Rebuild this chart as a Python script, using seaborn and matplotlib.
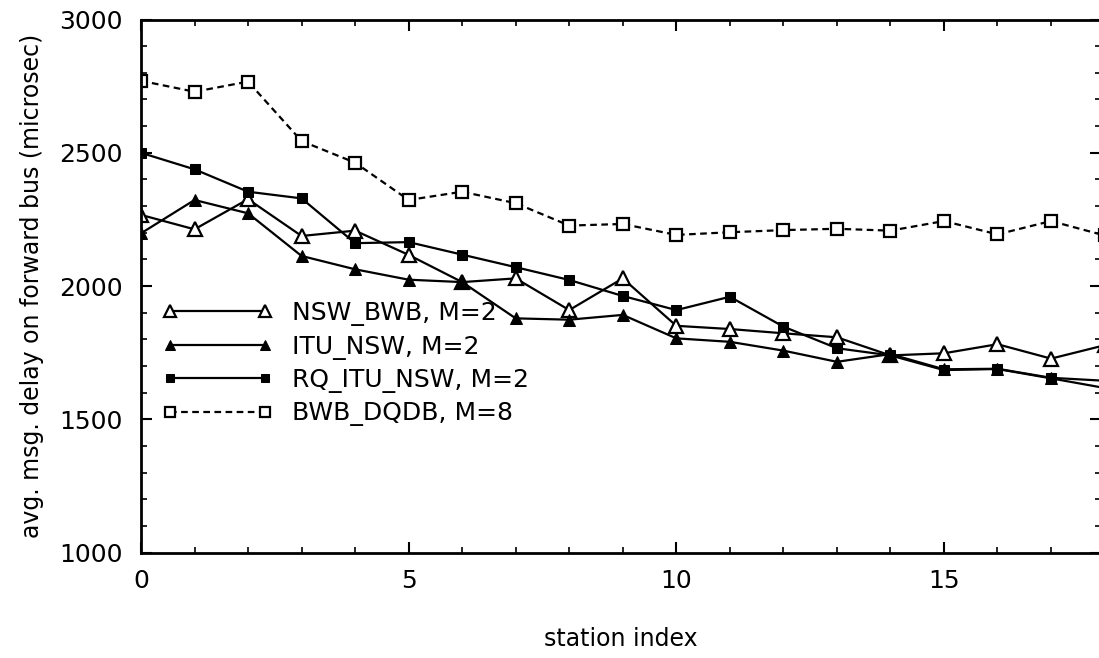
import matplotlib
matplotlib.use("Agg")
import matplotlib.pyplot as plt
import seaborn as sns
from matplotlib.ticker import MultipleLocator

stations = list(range(19))
nsw_bwb = [2267, 2213, 2326, 2188, 2208, 2117, 2015, 2029, 1910, 2029, 1851, 1839, 1823, 1808, 1740, 1748, 1782, 1728, 1778]
itu_nsw = [2198, 2323, 2273, 2113, 2063, 2024, 2015, 1879, 1874, 1892, 1804, 1791, 1758, 1716, 1745, 1688, 1690, 1656, 1645]
rq_itu_nsw = [2500, 2438, 2354, 2329, 2161, 2165, 2118, 2071, 2023, 1963, 1910, 1960, 1848, 1767, 1740, 1685, 1689, 1654, 1618]
bwb_dqdb = [2770, 2729, 2767, 2544, 2463, 2323, 2354, 2311, 2227, 2233, 2192, 2202, 2210, 2215, 2208, 2244, 2194, 2244, 2190]
labels = ["NSW_BWB, M=2", "ITU_NSW, M=2", "RQ_ITU_NSW, M=2", "BWB_DQDB, M=8"]

sns.set_theme(style="ticks")
plt.rcParams['font.family'] = ['DejaVu Sans']
plt.rcParams['text.color'] = 'black'
plt.rcParams['axes.labelcolor'] = 'black'
plt.rcParams['xtick.color'] = 'black'
plt.rcParams['ytick.color'] = 'black'

W, H = 1099, 658
fig = plt.figure(figsize=(W / 100, H / 100), dpi=100)
left, right, top, bottom = 141, 1101, 19.5, 552.7
ax = fig.add_axes([left / W, 1 - bottom / H, (right - left) / W, (bottom - top) / H])

common = dict(color="black", linewidth=1.6, ax=ax)
sns.lineplot(x=stations, y=nsw_bwb, marker="^", markersize=10, markerfacecolor="white",
             markeredgecolor="black", markeredgewidth=1.6, label=labels[0], **common)
sns.lineplot(x=stations, y=itu_nsw, marker="^", markersize=9, markerfacecolor="black",
             markeredgecolor="black", label=labels[1], **common)
sns.lineplot(x=stations, y=rq_itu_nsw, marker="s", markersize=6.5, markerfacecolor="black",
             markeredgecolor="black", label=labels[2], **common)
sns.lineplot(x=stations, y=bwb_dqdb, marker="s", markersize=9, markerfacecolor="white",
             markeredgecolor="black", markeredgewidth=1.6, linestyle=(0, (3, 2)),
             label=labels[3], **common)

ax.set_xlim(0, (right - left) / 53.53)
ax.set_ylim(1000, 3000)
ax.xaxis.set_major_locator(MultipleLocator(5))
ax.xaxis.set_minor_locator(MultipleLocator(1))
ax.yaxis.set_major_locator(MultipleLocator(500))
ax.yaxis.set_minor_locator(MultipleLocator(100))
ax.tick_params(which="both", direction="in", top=True, right=True, colors="black")
ax.tick_params(which="major", length=8, width=1.5)
ax.tick_params(which="minor", length=4, width=1.2)
ax.tick_params(axis="x", which="major", pad=12, labelsize=18)
ax.tick_params(axis="y", which="major", pad=13, labelsize=18)
for sp in ax.spines.values():
    sp.set_linewidth(2)
    sp.set_color("black")

ax.set_xlabel("station index", fontsize=17, labelpad=24)
ax.set_ylabel("avg. msg. delay on forward bus (microsec)", fontsize=17, labelpad=11)

leg = ax.legend(loc="upper left", bbox_to_anchor=((162 - left) / (right - left), (bottom - 301) / (bottom - top)),
                frameon=False, fontsize=18, handlelength=4.4, handletextpad=0.8,
                labelspacing=0.34, borderpad=0, borderaxespad=0, numpoints=2, markerscale=0.8)

fig.savefig("out.png", dpi=100)
